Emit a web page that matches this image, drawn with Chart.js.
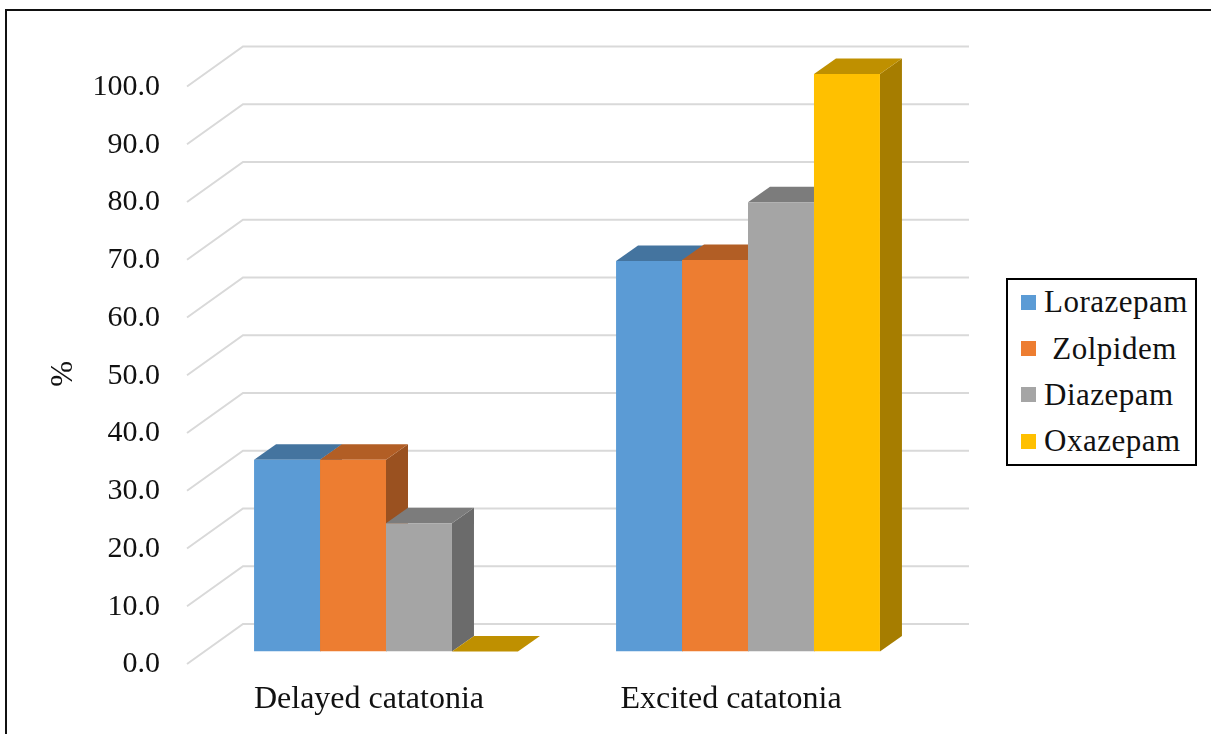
<!DOCTYPE html>
<html>
<head>
<meta charset="utf-8">
<script src="https://cdn.jsdelivr.net/npm/chart.js@4"></script>
<style>
  html, body { margin: 0; padding: 0; background: #fff; overflow: hidden; }
  #wrap { position: relative; width: 1211px; height: 734px; }
  canvas { display: block; }
  #legend { position: absolute; left: 1006px; top: 278px; width: 191px; height: 188px; box-sizing: border-box;
            border: 2px solid #000; background: #fff;
            font: 31px "Liberation Serif", serif; color: #111; letter-spacing: 0.5px; }
  #legend div { display: flex; align-items: center; height: 46.4px; white-space: pre; }
  #legend div:first-child { margin-top: -1px; }
  #legend i { display: block; width: 15px; height: 15px; margin: 0 8px 0 13px; }
</style>
</head>
<body>
<div id="wrap">
  <canvas id="canvas1" width="1211" height="734"></canvas>
  <div id="legend"></div>
</div>
<script>
// values
const categories = ["Delayed catatonia", "Excited catatonia"];
const seriesNames = ["Lorazepam", " Zolpidem", "Diazepam", "Oxazepam"];
const lorazepam = [33.2, 67.6];
const zolpidem = [33.2, 67.8];
const diazepam = [22.2, 77.8];
const oxazepam = [0, 100];
const yTicksStep = 10;

const frontColors = ["#5B9BD5", "#ED7D31", "#A5A5A5", "#FFC000"];
const topColors = ["#44749F", "#B25E25", "#7C7C7C", "#BF9000"];
const sideColors = ["#3F6C95", "#9A5120", "#6B6B6B", "#A67D00"];

const fontName = '"Liberation Serif", serif';
const depthX = 22, depthY = 15.5; // bar extrusion

// back wall + left wall lines, sits behind the bars
const walls = {
  id: "walls",
  beforeDatasetsDraw(chart) {
    const ctx = chart.ctx, y = chart.scales.y;
    ctx.save();
    ctx.strokeStyle = "#D9D9D9";
    ctx.lineWidth = 2;
    y.ticks.forEach(t => {
      const py = y.getPixelForValue(t.value);
      ctx.beginPath();
      ctx.moveTo(187, py + 12.5);
      ctx.lineTo(243, py - 27.5);
      ctx.lineTo(969, py - 27.5);
      ctx.stroke();
    });
    ctx.restore();
  }
};

function face(ctx, color, pts) {
  ctx.fillStyle = color;
  ctx.beginPath();
  pts.forEach((p, i) => i ? ctx.lineTo(p[0], p[1]) : ctx.moveTo(p[0], p[1]));
  ctx.closePath();
  ctx.fill();
}

// side and top of each bar, the front is the real chart.js bar
const extrude = {
  id: "extrude",
  beforeDatasetsDraw(chart) {
    const ctx = chart.ctx;
    chart.data.datasets.forEach((ds, i) => {
      chart.getDatasetMeta(i).data.forEach(bar => {
        const l = bar.x - bar.width / 2, r = bar.x + bar.width / 2;
        face(ctx, sideColors[i], [[r, bar.y], [r + depthX, bar.y - depthY], [r + depthX, bar.base - depthY], [r, bar.base]]);
        face(ctx, topColors[i], [[l, bar.y], [l + depthX, bar.y - depthY], [r + depthX, bar.y - depthY], [r, bar.y]]);
      });
    });
  }
};

// outer frame and the % title
const extras = {
  id: "extras",
  beforeDraw(chart) {
    const ctx = chart.ctx;
    ctx.save();
    ctx.strokeStyle = "#111";
    ctx.lineWidth = 2;
    ctx.strokeRect(6, 10, 1400, 1000);
    ctx.restore();
  },
  afterDraw(chart) {
    const ctx = chart.ctx, y = chart.scales.y;
    ctx.save();
    ctx.translate(64, y.getPixelForValue(50) + 11);
    ctx.rotate(-Math.PI / 2);
    ctx.font = "31px " + fontName;
    ctx.fillStyle = "#111";
    ctx.textAlign = "center";
    ctx.textBaseline = "middle";
    ctx.fillText("%", 0, 0);
    ctx.restore();
  }
};

const seriesValues = [lorazepam, zolpidem, diazepam, oxazepam];

const chart = new Chart(document.getElementById("canvas1"), {
  type: "bar",
  data: {
    labels: categories,
    datasets: seriesNames.map((name, i) => ({
      label: name,
      data: seriesValues[i],
      backgroundColor: frontColors[i],
      borderWidth: 0
    }))
  },
  plugins: [extras, walls, extrude],
  options: {
    responsive: false,
    animation: false,
    layout: { padding: { left: 0, right: 282, top: 74, bottom: 0 } },
    datasets: { bar: { barPercentage: 1, categoryPercentage: 0.729 } },
    plugins: { legend: { display: false }, tooltip: { enabled: false }, title: { display: false } },
    scales: {
      x: {
        grid: { display: false },
        border: { display: false },
        afterFit(scale) { scale.height = 82.5; },
        ticks: {
          color: "#111",
          font: { family: fontName, size: 32 },
          padding: 21,
          labelOffset: -17,
          maxRotation: 0,
          autoSkip: false
        }
      },
      y: {
        min: 0,
        max: 100,
        grid: { display: false },
        border: { display: false },
        afterFit(scale) { scale.width = 205; },
        ticks: {
          stepSize: yTicksStep,
          color: "#111",
          font: { family: fontName, size: 30 },
          padding: 37,
          labelOffset: 13,
          callback: v => v.toFixed(1)
        }
      }
    }
  }
});

// html legend, built from the datasets
document.getElementById("legend").innerHTML = chart.data.datasets.map(ds =>
  '<div><i style="background:' + ds.backgroundColor + '"></i><span>' + ds.label + '</span></div>'
).join("");
</script>
</body>
</html>
